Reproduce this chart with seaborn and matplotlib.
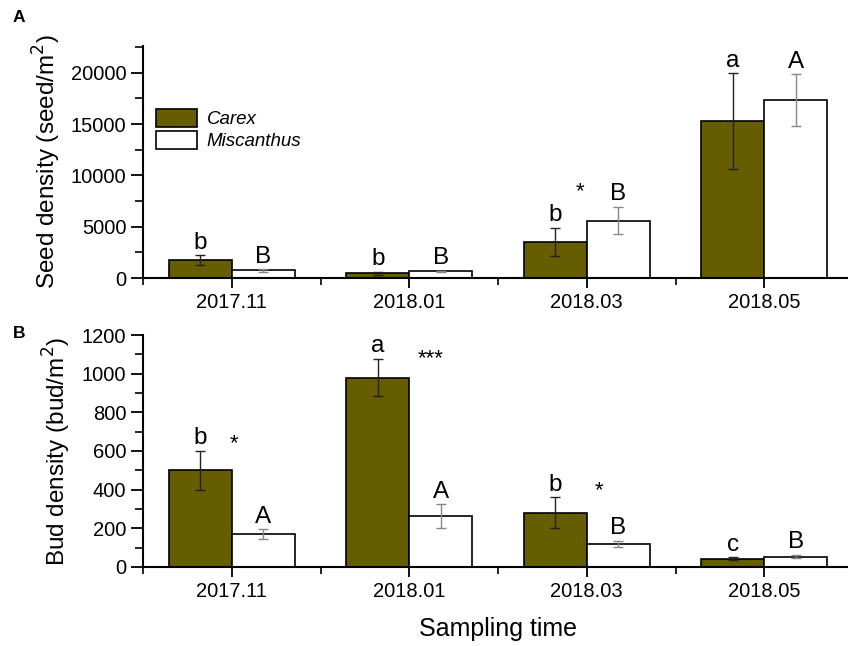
import numpy as np
import pandas as pd
import seaborn as sns
import matplotlib.pyplot as plt
from matplotlib.patches import Patch
from matplotlib.ticker import MultipleLocator

sns.set_style("ticks", {"text.color": "black", "axes.labelcolor": "black",
                        "xtick.color": "black", "ytick.color": "black",
                        "axes.edgecolor": "black"})
plt.rcParams["font.family"] = ["Liberation Sans", "DejaVu Sans"]

times = ["2017.11", "2018.01", "2018.03", "2018.05"]
species = ["Carex", "Miscanthus"]

# seed density (seed/m2), mean and SE
seed_carex = [1750, 450, 3500, 15300]
seed_carex_se = [450, 150, 1400, 4650]
seed_misc = [750, 650, 5600, 17350]
seed_misc_se = [120, 60, 1350, 2500]
seed_letters_carex = ["b", "b", "b", "a"]
seed_letters_misc = ["B", "B", "B", "A"]

# bud density (bud/m2), mean and SE
bud_carex = [500, 980, 280, 42]
bud_carex_se = [102, 98, 80, 8]
bud_misc = [170, 262, 120, 54]
bud_misc_se = [25, 62, 16, 10]
bud_letters_carex = ["b", "a", "b", "c"]
bud_letters_misc = ["A", "A", "B", "B"]

# significance stars: (category, x shift, y value, text)
seed_stars = [(2, -0.04, 8400, "*")]
bud_stars = [(0, 0.01, 640, "*"), (1, 0.12, 1075, "***"), (2, 0.07, 393, "*")]

olive = "#665c00"
colors = {"Carex": olive, "Miscanthus": "white"}
err_colors = ["#222222", "#888888"]


def make_df(carex, misc):
    return pd.DataFrame({
        "time": times * 2,
        "species": ["Carex"] * 4 + ["Miscanthus"] * 4,
        "value": list(carex) + list(misc),
    })


def draw_panel(ax, carex, carex_se, misc, misc_se, let_c, let_m, stars):
    df = make_df(carex, misc)
    sns.barplot(data=df, x="time", y="value", hue="species", order=times,
                hue_order=species, palette=colors, saturation=1,
                edgecolor="black", linewidth=1.2, width=0.71, errorbar=None,
                ax=ax, legend=False)
    ses = [carex_se, misc_se]
    vals = [carex, misc]
    lets = [let_c, let_m]
    bar_conts = list(ax.containers)
    for k, cont in enumerate(bar_conts):
        for j, bar in enumerate(cont.patches):
            xc = bar.get_x() + bar.get_width() / 2
            ax.errorbar(xc, vals[k][j], yerr=ses[k][j], color=err_colors[k],
                        capsize=3.5, elinewidth=1, capthick=1, fmt="none", zorder=5)
            ax.annotate(lets[k][j], (xc, vals[k][j] + ses[k][j]),
                        xytext=(0, 1), textcoords="offset points",
                        ha="center", va="bottom", fontsize=17.5)
    for cat, dx, yv, s in stars:
        ax.text(cat + dx, yv, s, ha="center", va="center", fontsize=16)
    ax.set_xlim(-0.5, 3.5)
    ax.xaxis.set_minor_locator(MultipleLocator(1, offset=0.5))
    sns.despine(ax=ax)
    for sp in ["left", "bottom"]:
        ax.spines[sp].set_linewidth(1.5)
    ax.tick_params(axis="both", which="major", direction="out", width=1.3,
                   labelsize=14.5, color="black", labelcolor="black")
    ax.tick_params(axis="y", which="major", length=8.5)
    ax.tick_params(axis="y", which="minor", length=5.5, width=1.2)
    ax.tick_params(axis="x", which="major", length=7)
    ax.tick_params(axis="x", which="minor", length=5, width=1.2)
    ax.set_xlabel("")


fig = plt.figure(figsize=(8.48, 6.46), dpi=100)
W, H = 848, 646
left = 143 / W
width = (853 - 143) / W
ax1 = fig.add_axes([left, 1 - 278 / H, width, (278 - 46) / H])
ax2 = fig.add_axes([left, 1 - 567 / H, width, (567 - 335) / H])

draw_panel(ax1, seed_carex, seed_carex_se, seed_misc, seed_misc_se,
           seed_letters_carex, seed_letters_misc, seed_stars)
ax1.set_ylim(0, 22600)
ax1.yaxis.set_major_locator(MultipleLocator(5000))
ax1.yaxis.set_minor_locator(MultipleLocator(2500))
ax1.set_ylabel("Seed density (seed/m$^2$)", fontsize=17.5)
ax1.yaxis.set_label_coords(-0.112, 0.5)

draw_panel(ax2, bud_carex, bud_carex_se, bud_misc, bud_misc_se,
           bud_letters_carex, bud_letters_misc, bud_stars)
ax2.set_ylim(0, 1200)
ax2.yaxis.set_major_locator(MultipleLocator(200))
ax2.yaxis.set_minor_locator(MultipleLocator(100))
ax2.set_ylabel("Bud density (bud/m$^2$)", fontsize=17.5)
ax2.yaxis.set_label_coords(-0.098, 0.5)
ax2.set_xlabel("Sampling time", fontsize=18, labelpad=12)

handles = [Patch(facecolor=colors[s], edgecolor="black", linewidth=1.2, label=s)
           for s in species]
leg = ax1.legend(handles=handles, loc="upper left", bbox_to_anchor=(0.0, 0.785),
                 frameon=False, handlelength=2.2, handleheight=1.1,
                 handletextpad=0.5, labelspacing=0.12, borderaxespad=0.3,
                 prop={"style": "italic", "size": 13.5})

fig.text(13 / W, 1 - 18 / H, "A", fontsize=12.5, fontweight="bold", va="center")
fig.text(13 / W, 1 - 334 / H, "B", fontsize=12.5, fontweight="bold", va="center")

fig.savefig("out.png", dpi=100, facecolor="white")
